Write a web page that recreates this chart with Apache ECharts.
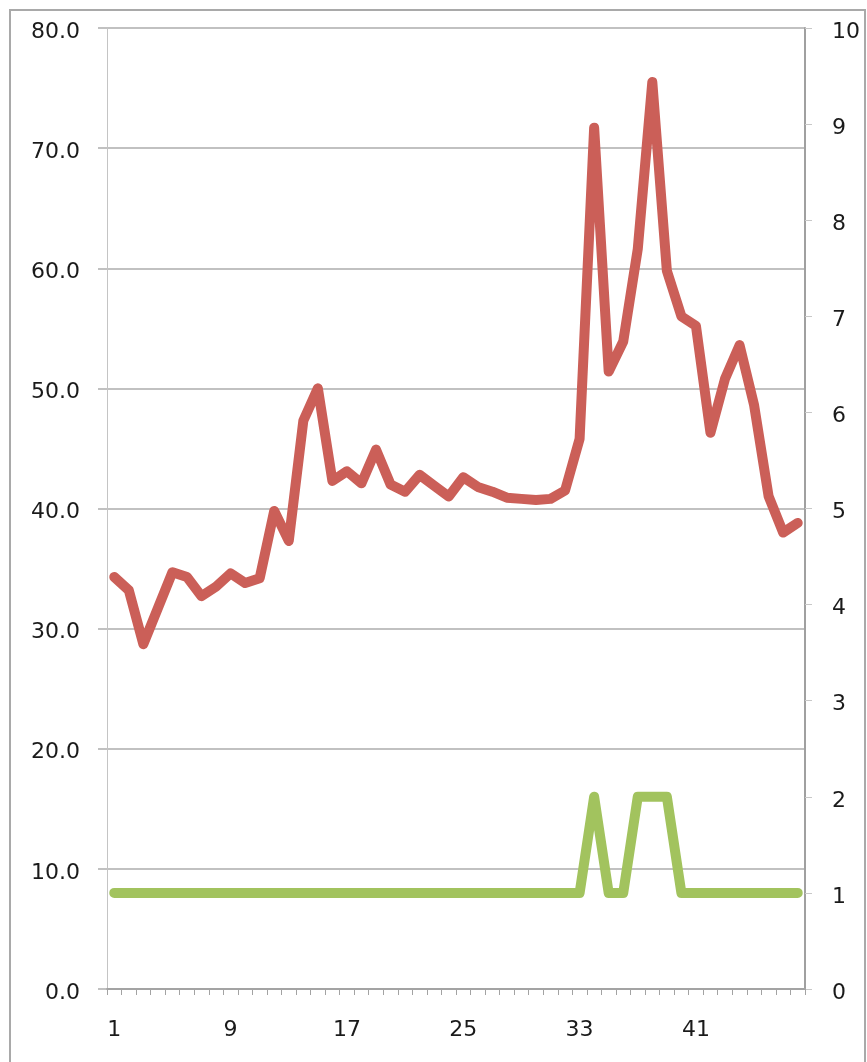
<!DOCTYPE html>
<html>
<head>
<meta charset="utf-8">
<script src="https://cdn.jsdelivr.net/npm/echarts@6/dist/echarts.min.js"></script>
<style>
  html, body { margin: 0; padding: 0; background: #ffffff; }
  #chart { width: 867px; height: 1062px; }
</style>
</head>
<body>
<div id="chart"></div>
<script>
// Category labels 1..48
const categories = Array.from({ length: 48 }, (_, i) => String(i + 1));

// Primary series (left axis, 0-80)
const primaryValues = [
  34.3, 33.2, 28.7, 31.7, 34.7, 34.3, 32.7, 33.5, 34.6, 33.8,
  34.2, 39.8, 37.3, 47.3, 50.0, 42.3, 43.1, 42.1, 44.9, 42.0,
  41.4, 42.8, 41.9, 41.0, 42.6, 41.8, 41.4, 40.9, 40.8, 40.7,
  40.8, 41.5, 45.8, 71.7, 51.4, 53.9, 61.6, 75.5, 59.8, 56.0,
  55.2, 46.3, 50.8, 53.6, 48.6, 41.0, 38.0, 38.8
];

// Secondary series (right axis, 0-10)
const secondaryValues = [
  1, 1, 1, 1, 1, 1, 1, 1, 1, 1,
  1, 1, 1, 1, 1, 1, 1, 1, 1, 1,
  1, 1, 1, 1, 1, 1, 1, 1, 1, 1,
  1, 1, 1, 2, 1, 1, 2, 2, 2, 1,
  1, 1, 1, 1, 1, 1, 1, 1
];

const FONT = 'DejaVu Sans';
const labelStyle = { fontFamily: FONT, fontSize: 22, color: '#1a1a1a' };

const chart = echarts.init(document.getElementById('chart'), null, { renderer: 'canvas' });

chart.setOption({
  animation: false,
  backgroundColor: '#ffffff',
  graphic: [{
    type: 'rect',
    silent: true,
    z: -1,
    shape: { x: 10, y: 10, width: 855, height: 1090 },
    style: { fill: 'none', stroke: '#a9a9a9', lineWidth: 2 }
  }],
  grid: { left: 107, right: 62, top: 28, bottom: 73, containLabel: false },
  xAxis: {
    type: 'category',
    data: categories,
    boundaryGap: true,
    axisLine: { show: true, lineStyle: { color: '#a3a3a3', width: 2 } },
    axisTick: { show: true, interval: 0, length: 6, lineStyle: { color: '#a3a3a3', width: 1 } },
    axisLabel: Object.assign({ interval: 7, margin: 30 }, labelStyle),
    splitLine: { show: false }
  },
  yAxis: [
    {
      type: 'value',
      position: 'left',
      min: 0,
      max: 80,
      interval: 10,
      axisLine: { show: true, lineStyle: { color: '#c4c4c4', width: 1 } },
      axisTick: { show: true, length: 9, lineStyle: { color: '#adadad', width: 1.5 } },
      axisLabel: Object.assign({
        margin: 27,
        verticalAlign: 'top',
        lineHeight: 8,
        formatter: v => v.toFixed(1)
      }, labelStyle),
      splitLine: { show: true, lineStyle: { color: '#adadad', width: 1.5 } }
    },
    {
      type: 'value',
      position: 'right',
      min: 0,
      max: 10,
      interval: 1,
      axisLine: { show: true, lineStyle: { color: '#a0a0a0', width: 2 } },
      axisTick: { show: true, length: 7, lineStyle: { color: '#c8c8c8', width: 1 } },
      axisLabel: Object.assign({ margin: 27, verticalAlign: 'top', lineHeight: 8 }, labelStyle),
      splitLine: { show: false }
    }
  ],
  series: [
    {
      type: 'line',
      yAxisIndex: 1,
      data: secondaryValues,
      showSymbol: false,
      lineStyle: { color: '#a2c35e', width: 10, cap: 'round', join: 'round' },
      itemStyle: { color: '#a2c35e' }
    },
    {
      type: 'line',
      yAxisIndex: 0,
      data: primaryValues,
      showSymbol: false,
      lineStyle: { color: '#cb5f58', width: 10, cap: 'round', join: 'round' },
      itemStyle: { color: '#cb5f58' }
    }
  ]
});
</script>
</body>
</html>
